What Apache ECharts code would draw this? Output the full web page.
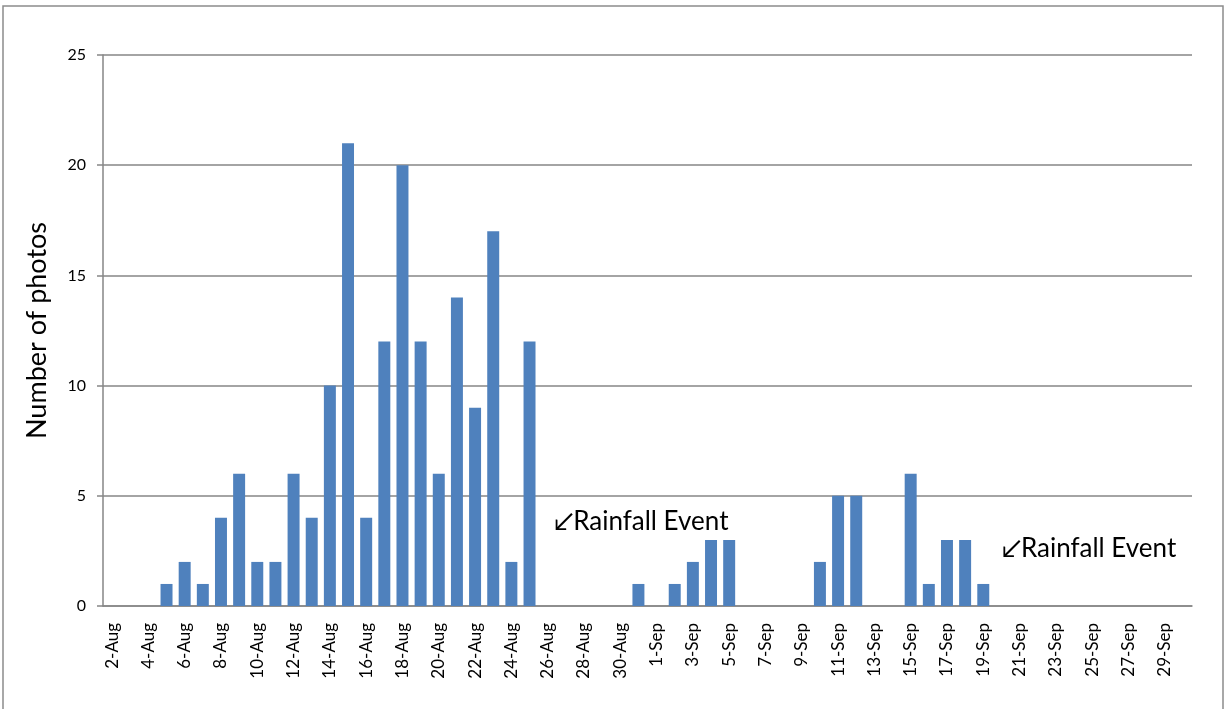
<!DOCTYPE html>
<html>
<head>
<meta charset="utf-8">
<script src="https://cdn.jsdelivr.net/npm/echarts@6/dist/echarts.min.js"></script>
<style>
  html, body { margin: 0; padding: 0; background: #fff; }
  #chart { width: 1225px; height: 709px; }
</style>
</head>
<body>
<div id="chart"></div>
<script>
// Daily dates, 2 Aug – 30 Sep
const days = [
  '2-Aug','3-Aug','4-Aug','5-Aug','6-Aug','7-Aug','8-Aug','9-Aug','10-Aug','11-Aug',
  '12-Aug','13-Aug','14-Aug','15-Aug','16-Aug','17-Aug','18-Aug','19-Aug','20-Aug','21-Aug',
  '22-Aug','23-Aug','24-Aug','25-Aug','26-Aug','27-Aug','28-Aug','29-Aug','30-Aug','31-Aug',
  '1-Sep','2-Sep','3-Sep','4-Sep','5-Sep','6-Sep','7-Sep','8-Sep','9-Sep','10-Sep',
  '11-Sep','12-Sep','13-Sep','14-Sep','15-Sep','16-Sep','17-Sep','18-Sep','19-Sep','20-Sep',
  '21-Sep','22-Sep','23-Sep','24-Sep','25-Sep','26-Sep','27-Sep','28-Sep','29-Sep','30-Sep'
];

// Photos taken per day
const photos = [
  0, 0, 0, 1, 2, 1, 4, 6, 2, 2,
  6, 4, 10, 21, 4, 12, 20, 12, 6, 14,
  9, 17, 2, 12, 0, 0, 0, 0, 0, 1,
  0, 1, 2, 3, 3, 0, 0, 0, 0, 2,
  5, 5, 0, 0, 6, 1, 3, 3, 1, 0,
  0, 0, 0, 0, 0, 0, 0, 0, 0, 0
];

// Rain events: [day, height on the value axis]
const rainDays = ['26-Aug', '20-Sep'];
const rainLevels = [3.85, 2.6];
const rainText = '\u2199Rainfall Event';

const yTicks = [0, 5, 10, 15, 20, 25];

const FONT = 'Lato, "Open Sans", "Liberation Sans", sans-serif';

const chart = echarts.init(document.getElementById('chart'), null, { renderer: 'canvas' });

chart.setOption({
  animation: false,
  backgroundColor: '#ffffff',
  graphic: [{
    type: 'rect',
    shape: { x: 3, y: 6, width: 1220, height: 720 },
    style: { fill: 'none', stroke: '#8c8c8c', lineWidth: 1.5 },
    silent: true
  }],
  grid: { left: 103, right: 33, top: 55, bottom: 103 },
  xAxis: {
    type: 'category',
    data: days,
    boundaryGap: true,
    axisLine: { lineStyle: { color: '#868686', width: 1.5 } },
    axisTick: { interval: 1, length: 6, lineStyle: { color: '#868686', width: 1.5 } },
    axisLabel: {
      interval: 1,
      rotate: 90,
      margin: 17,
      color: '#000',
      fontSize: 17,
      fontFamily: FONT
    }
  },
  yAxis: {
    type: 'value',
    min: yTicks[0],
    max: yTicks[yTicks.length - 1],
    interval: 5,
    name: 'Number of photos',
    nameLocation: 'middle',
    nameGap: 52,
    nameTextStyle: { color: '#000', fontSize: 27, fontFamily: FONT },
    axisLine: { show: true, lineStyle: { color: '#868686', width: 1.5 } },
    axisTick: { show: true, length: 6, lineStyle: { color: '#868686', width: 1.5 } },
    axisLabel: { color: '#000', fontSize: 16, margin: 17, fontFamily: FONT },
    splitLine: { lineStyle: { color: '#868686', width: 1.5 } }
  },
  series: [{
    type: 'bar',
    data: photos,
    barCategoryGap: '34%',
    itemStyle: { color: '#4f81bd' },
    markPoint: {
      symbol: 'circle',
      symbolSize: 0,
      silent: true,
      label: {
        show: true,
        position: 'right',
        distance: 0,
        formatter: rainText,
        color: '#000',
        fontSize: 26,
        fontFamily: FONT
      },
      data: rainDays.map((d, i) => ({
        coord: [d, rainLevels[i]],
        label: { offset: [i === 0 ? 6 : 0, 0] }
      }))
    }
  }]
});
</script>
</body>
</html>
